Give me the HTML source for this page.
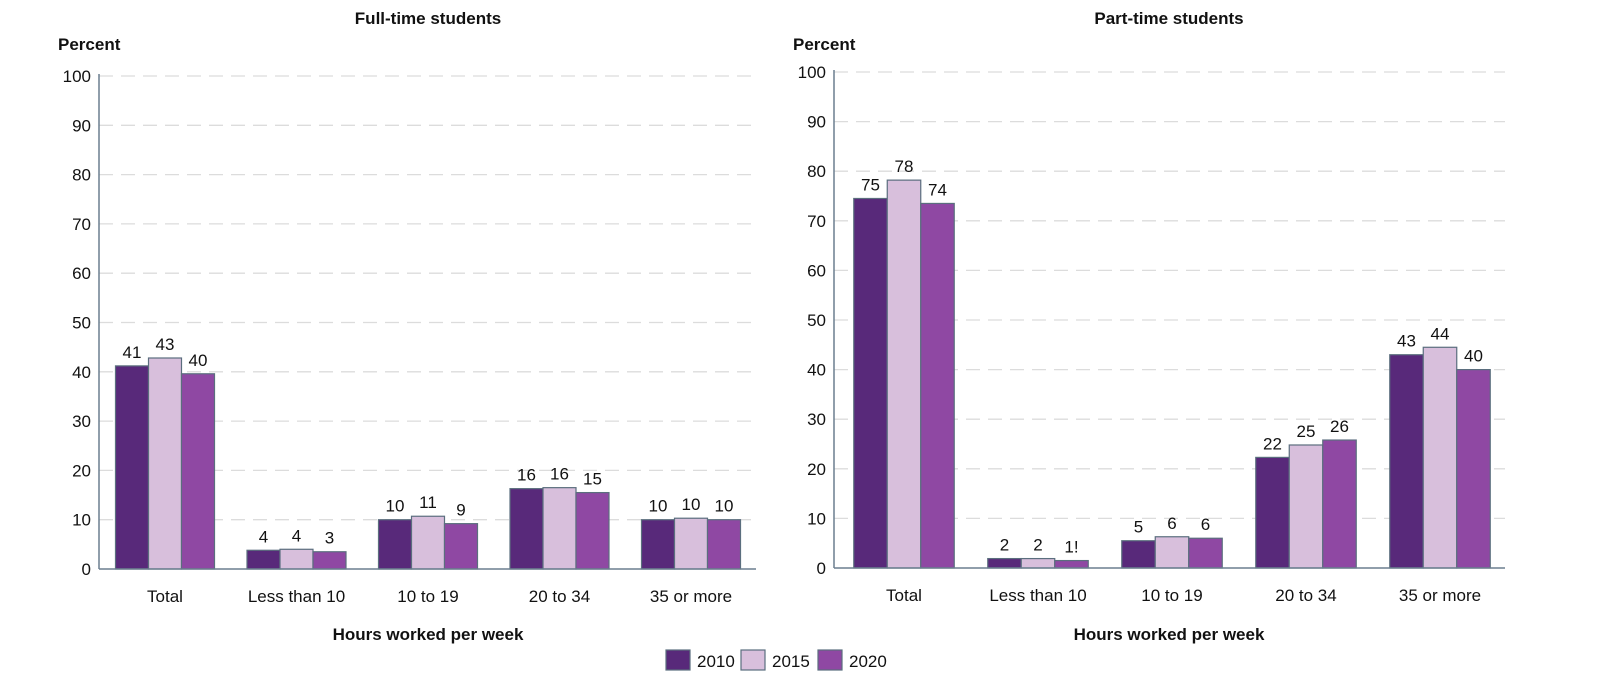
<!DOCTYPE html>
<html><head><meta charset="utf-8"><style>
body{margin:0;background:#fff;font-family:"Liberation Sans",Arial,sans-serif}
svg text{font-family:"Liberation Sans",Arial,sans-serif}
</style></head><body>
<svg id="c" width="1600" height="689" xmlns="http://www.w3.org/2000/svg"></svg>
<script>
const categories=["Total","Less than 10","10 to 19","20 to 34","35 or more"];
const years=["2010","2015","2020"];
const ftValues2010=[41.2,3.8,10,16.3,10];
const ftValues2015=[42.8,4,10.7,16.5,10.3];
const ftValues2020=[39.6,3.5,9.2,15.5,10];
const ftLabels2010=["41","4","10","16","10"];
const ftLabels2015=["43","4","11","16","10"];
const ftLabels2020=["40","3","9","15","10"];
const ptValues2010=[74.5,1.9,5.5,22.3,43];
const ptValues2015=[78.2,1.9,6.3,24.8,44.5];
const ptValues2020=[73.5,1.5,6,25.8,40];
const ptLabels2010=["75","2","5","22","43"];
const ptLabels2015=["78","2","6","25","44"];
const ptLabels2020=["74","1!","6","26","40"];
const yTicks=[0,10,20,30,40,50,60,70,80,90,100];
const colors=["#58297a","#d8bfdc","#8f48a3"];
const NS="http://www.w3.org/2000/svg";
const svg=document.getElementById('c');
function mk(t,a,txt){const e=document.createElementNS(NS,t);for(const k in a)e.setAttribute(k,a[k]);if(txt!==undefined)e.textContent=txt;svg.appendChild(e);return e;}
function panel(p){
  const y=v=>p.y0-(v/100)*(p.y0-p.y100);
  const cx=i=>p.c0+i*p.step;
  let t=mk('text',{x:p.tx,y:24,'text-anchor':'middle','font-size':17,'font-weight':'bold',fill:'#111'},p.title);
  
  t=mk('text',{x:p.ax-41,y:50,'font-size':17,'font-weight':'bold',fill:'#111'},'Percent');
  
  yTicks.forEach(v=>{
    if(v>0){const g=mk('line',{x1:p.ax,x2:p.ax2,y1:y(v),y2:y(v),stroke:'#dcdcdc','stroke-width':1.3,'stroke-dasharray':'14,8'});
    }
    const l=mk('text',{x:p.ax-8,y:y(v)+6,'text-anchor':'end','font-size':17,fill:'#111'},String(v));
    
  });
  const vals=[p.v1,p.v2,p.v3],labs=[p.l1,p.l2,p.l3];
  categories.forEach((c,i)=>{
    for(let s=0;s<3;s++){
      const x=cx(i)-1.5*p.bw+s*p.bw;
      const r=mk('rect',{x:x,y:y(vals[s][i]),width:p.bw,height:p.y0-y(vals[s][i]),fill:colors[s],stroke:'#5b6e7e','stroke-width':1.2});
      
      const tl=mk('text',{x:x+p.bw/2,y:y(vals[s][i])-8,'text-anchor':'middle','font-size':17,fill:'#111'},labs[s][i]);
      
    }
    const xl=mk('text',{x:cx(i),y:p.y0+33,'text-anchor':'middle','font-size':17,fill:'#111'},c);
    
  });
  let a=mk('line',{x1:p.ax,x2:p.ax,y1:p.y100-2,y2:p.y0,stroke:'#6b7f8f','stroke-width':1.5});
  
  a=mk('line',{x1:p.ax,x2:p.ax2,y1:p.y0,y2:p.y0,stroke:'#6b7f8f','stroke-width':1.5});
  
  t=mk('text',{x:p.tx,y:640,'text-anchor':'middle','font-size':17,'font-weight':'bold',fill:'#111'},'Hours worked per week');
  
}
panel({id:'full-time',title:'Full-time students',tx:428,ax:99,ax2:756,y0:569,y100:76,c0:165,step:131.5,bw:33,v1:ftValues2010,v2:ftValues2015,v3:ftValues2020,l1:ftLabels2010,l2:ftLabels2015,l3:ftLabels2020});
panel({id:'part-time',title:'Part-time students',tx:1169,ax:834,ax2:1505,y0:568,y100:72,c0:904,step:134,bw:33.5,v1:ptValues2010,v2:ptValues2015,v3:ptValues2020,l1:ptLabels2010,l2:ptLabels2015,l3:ptLabels2020});
const lx=[666,741,818];
years.forEach((yr,i)=>{
  const r=mk('rect',{x:lx[i],y:650,width:24,height:20,fill:colors[i],stroke:'#5b6e7e','stroke-width':1.2});
  
  const t=mk('text',{x:lx[i]+31,y:667,'font-size':17,fill:'#111'},yr);
  
});
</script>
</body></html>
